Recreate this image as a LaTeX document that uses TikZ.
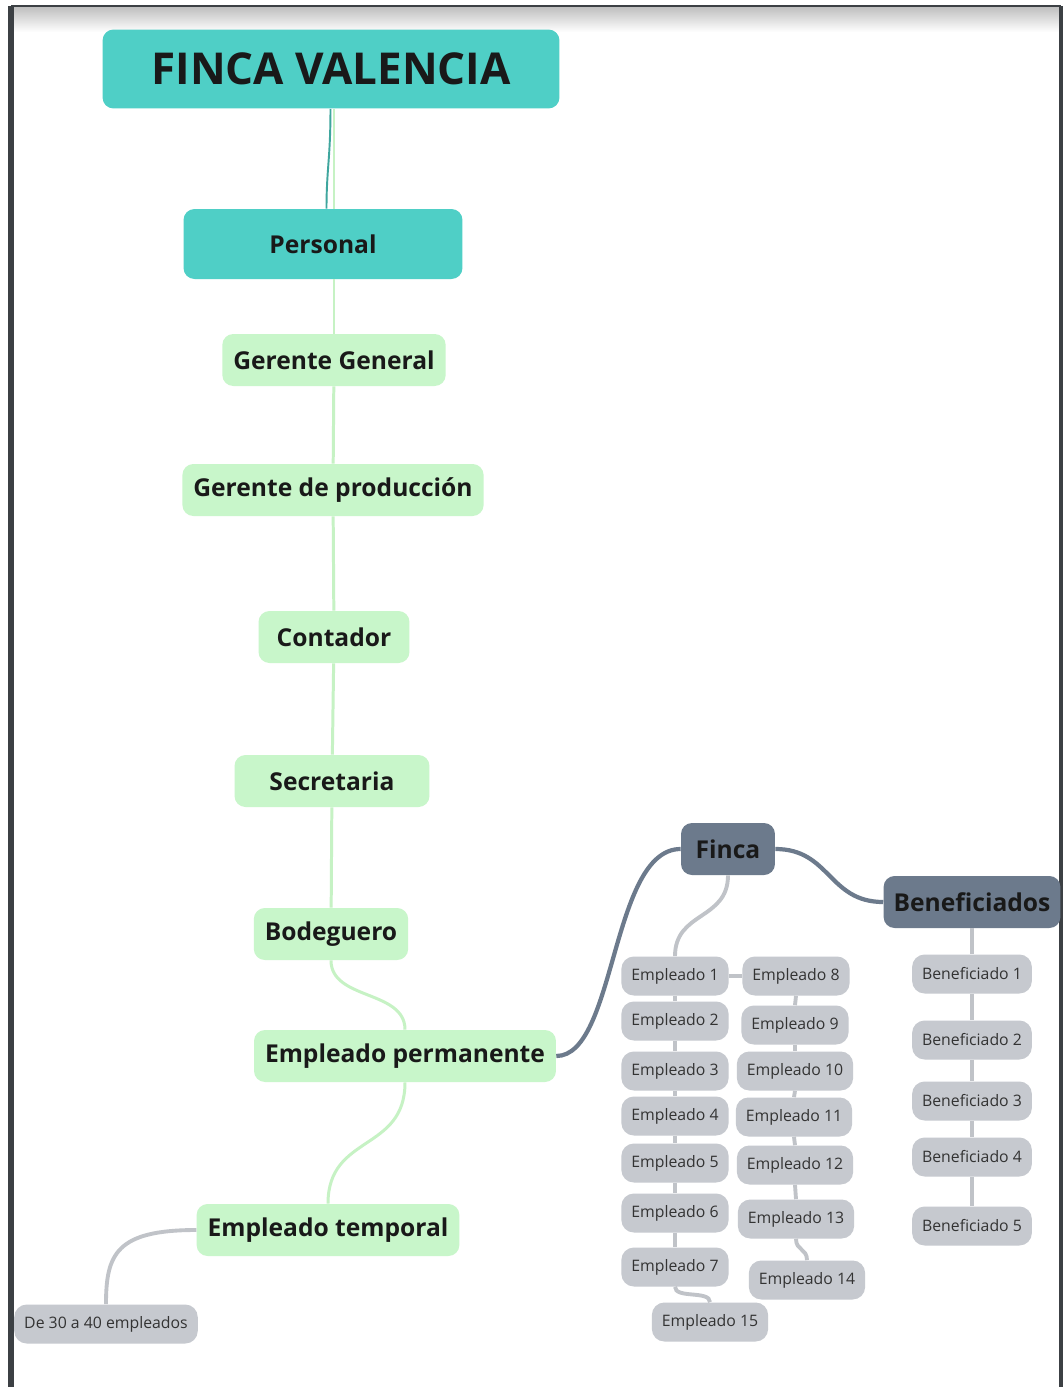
\documentclass[tikz,border=0pt]{standalone}
\usepackage{fontspec}
\setmainfont{Open Sans}
\usetikzlibrary{positioning,calc}
\definecolor{teal1}{HTML}{4FCFC6}
\definecolor{verde1}{HTML}{C8F6CA}
\definecolor{verde2}{HTML}{C6F2C4}
\definecolor{pizarra}{HTML}{6C7A8C}
\definecolor{gris1}{HTML}{C6C9CF}
\definecolor{gris2}{HTML}{C0C3C8}
\definecolor{marco}{HTML}{3C4044}
\tikzset{every picture/.style={font issue=\normalsize},
            font issue/.style={execute at begin picture={#1\selectfont}}
        }

\begin{document}
\begin{tikzpicture}[x=0.02cm,y=0.02cm,
    caja/.style={rounded corners=0.22cm,align=center,text=black!90},
    raiz/.style={caja,fill=teal1,minimum width=9.14cm,minimum height=1.58cm,font=\fontsize{25}{30}\selectfont\bfseries},
    seccion/.style={caja,fill=teal1,minimum width=5.58cm,minimum height=1.4cm,font=\fontsize{14}{17}\selectfont\bfseries},
    cargo/.style={caja,fill=verde1,minimum height=1.04cm,inner xsep=0.22cm,font=\fontsize{14}{17}\selectfont\bfseries},
    grupo/.style={caja,fill=pizarra,minimum height=1.04cm,inner xsep=0.2cm,font=\fontsize{14}{17}\selectfont\bfseries},
    hoja/.style={caja,fill=gris1,rounded corners=0.25cm,minimum height=0.78cm,inner xsep=0.2cm,text=black!80,font=\fontsize{9}{11}\selectfont},
    lverde/.style={draw=verde2,line width=1.7pt},
    lteal/.style={draw=teal1!80!black,line width=1.1pt},
    lpizarra/.style={draw=pizarra,line width=2.4pt},
    lgris/.style={draw=gris2,line width=2.2pt}]
      \useasboundingbox (0,0) rectangle (1063,-1387);
      % 枠
      \shade[top color=black!25,bottom color=white] (11,-7) rectangle (1061,-32);
      \fill[white] (11,-32) rectangle (1061,-1387);
      \draw[marco,line width=1.2pt] (11,-6) -- (1061,-6);
      \draw[marco,line width=3.6pt] (11,-6) -- (11,-1387);
      \draw[marco,line width=1.8pt] (1061,-6) -- (1061,-1387);

      % 頂点の定義
      \node[raiz] (fv) at (331,-69) {FINCA VALENCIA};
      \node[seccion] (per) at (323,-244) {Personal};
      \node[cargo] (gg) at (334,-360) {Gerente General};
      \node[cargo] (gp) at (333,-490) {Gerente de producción};
      \node[cargo,minimum width=3.02cm] (cont) at (334,-637) {Contador};
      \node[cargo,minimum width=3.9cm] (secr) at (332,-781) {Secretaria};
      \node[cargo] (bod) at (331,-934) {Bodeguero};
      \node[cargo] (perm) at (405,-1056) {Empleado permanente};
      \node[cargo] (temp) at (328,-1230) {Empleado temporal};
      \node[hoja] (rango) at (106,-1324) {De 30 a 40 empleados};

      \node[grupo,minimum width=1.88cm] (finca) at (728,-849) {Finca};
      \node[grupo] (benef) at (972,-902) {Beneficiados};

      \node[hoja] (e1) at (675,-976) {Empleado 1};
      \node[hoja] (e2) at (675,-1021) {Empleado 2};
      \node[hoja] (e3) at (675,-1071) {Empleado 3};
      \node[hoja] (e4) at (675,-1116) {Empleado 4};
      \node[hoja] (e5) at (675,-1163) {Empleado 5};
      \node[hoja] (e6) at (675,-1213) {Empleado 6};
      \node[hoja] (e7) at (675,-1267) {Empleado 7};
      \node[hoja] (e15) at (710,-1322) {Empleado 15};
      \node[hoja] (e8) at (796,-976) {Empleado 8};
      \node[hoja] (e9) at (795,-1025) {Empleado 9};
      \node[hoja] (e10) at (795,-1071) {Empleado 10};
      \node[hoja] (e11) at (794,-1117) {Empleado 11};
      \node[hoja] (e12) at (795,-1165) {Empleado 12};
      \node[hoja] (e13) at (796,-1219) {Empleado 13};
      \node[hoja] (e14) at (807,-1280) {Empleado 14};

      \node[hoja] (b1) at (972,-974) {Beneficiado 1};
      \node[hoja] (b2) at (972,-1040) {Beneficiado 2};
      \node[hoja] (b3) at (972,-1101) {Beneficiado 3};
      \node[hoja] (b4) at (972,-1157) {Beneficiado 4};
      \node[hoja] (b5) at (972,-1226) {Beneficiado 5};

      % 辺の定義
      \draw[lverde] (gg.north |- fv.south) -- (gg.north |- per.north);
      \draw[lteal] ([xshift=-2pt]gg.north |- fv.south) .. controls +(0,-50) and +(0,40) .. ([xshift=-0.15cm]gg.north |- per.north);
      \draw[lverde] (gg.north |- per.south) -- (gg.north);
      \draw[lverde] (gg) -- (gp) -- (cont) -- (secr) -- (bod);
      \draw[lverde] (bod.south) .. controls +(0,-40) and +(0,40) .. (perm.north);
      \draw[lverde] (perm.south) .. controls +(0,-70) and +(0,70) .. (temp.north);
      \draw[lgris] (temp.west) .. controls +(-80,0) and +(0,50) .. (rango.north);

      \draw[lpizarra] (perm.east) .. controls +(60,0) and +(-70,0) .. (finca.west);
      \draw[lpizarra] (finca.east) .. controls +(55,0) and +(-55,0) .. (benef.west);

      \draw[lgris] (finca.south) .. controls +(0,-45) and +(0,45) .. (e1.north);
      \draw[lgris] (e1) -- (e8);
      \draw[lgris] (e1) -- (e2) -- (e3) -- (e4) -- (e5) -- (e6) -- (e7);
      \draw[lgris] (e7.south) .. controls +(0,-12) and +(0,12) .. (e15.north);
      \draw[lgris] (e8.south) -- (e9.north);
      \draw[lgris] (e9.south) -- (e10.north);
      \draw[lgris] (e10.south) -- (e11.north);
      \draw[lgris] (e11.south) -- (e12.north);
      \draw[lgris] (e12.south) -- (e13.north);
      \draw[lgris] (e13.south) .. controls +(0,-12) and +(0,12) .. (e14.north);
      \draw[lgris] (benef) -- (b1) -- (b2) -- (b3) -- (b4) -- (b5);
    \end{tikzpicture}
\end{document}
